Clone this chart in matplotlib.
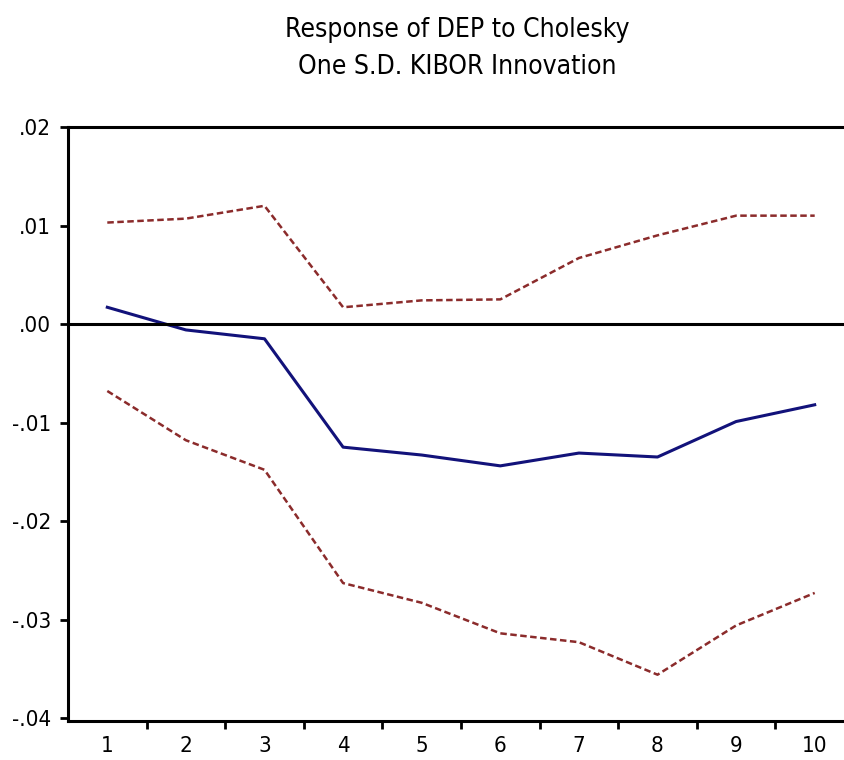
import numpy as np
import matplotlib
matplotlib.use('Agg')
import matplotlib.pyplot as plt
from matplotlib.ticker import FixedLocator, NullFormatter

# narrow look like the EViews chart
plt.rcParams['font.family'] = ['DejaVu Sans']
plt.rcParams['font.stretch'] = 'condensed'

# periods and impulse response values
periods = [1, 2, 3, 4, 5, 6, 7, 8, 9, 10]
response = [0.0017, -0.0006, -0.0015, -0.0125, -0.0133, -0.0144, -0.0131, -0.0135, -0.0099, -0.0082]
upper = [0.0103, 0.0107, 0.0120, 0.0017, 0.0024, 0.0025, 0.0067, 0.0090, 0.0110, 0.0110]
lower = [-0.0068, -0.0118, -0.0148, -0.0263, -0.0283, -0.0314, -0.0323, -0.0356, -0.0306, -0.0273]
ytick_vals = [0.02, 0.01, 0.00, -0.01, -0.02, -0.03, -0.04]
ytick_labels = ['.02', '.01', '.00', '-.01', '-.02', '-.03', '-.04']

fig = plt.figure(figsize=(8.45, 7.6), dpi=100)
ax = fig.add_axes([68 / 845, 1 - 721 / 760, 1 - 68 / 845, (721 - 127) / 760])

ax.plot(periods, upper, color='#8b2b2b', lw=1.8, linestyle=(0, (2.6, 1.4)))
ax.plot(periods, lower, color='#8b2b2b', lw=1.8, linestyle=(0, (2.6, 1.4)))
ax.plot(periods, response, color='#12127a', lw=2.2)
ax.axhline(0, color='black', lw=2.2)

ax.set_xlim(0.5, 0.5 + (845 - 68) / 78.6)
ax.set_ylim(-0.0403, 0.02)

# ticks at boundaries, labels at centres
ax.xaxis.set_major_locator(FixedLocator(np.arange(1.5, 10.5, 1.0)))
ax.xaxis.set_major_formatter(NullFormatter())
ax.xaxis.set_minor_locator(FixedLocator(periods))
ax.set_xticklabels([str(p) for p in periods], minor=True)
ax.tick_params(axis='x', which='major', direction='out', length=6, width=2, color='black')
ax.tick_params(axis='x', which='minor', length=0, pad=11, labelsize=16)

ax.set_yticks(ytick_vals)
ax.set_yticklabels(ytick_labels)
ax.tick_params(axis='y', direction='out', length=6, width=2, pad=6, labelsize=16)

ax.spines['right'].set_visible(False)
for s in ['left', 'top', 'bottom']:
    ax.spines[s].set_linewidth(2.2)

fig.text(0.541, 1 - 30 / 760, 'Response of DEP to Cholesky', ha='center', va='center', fontsize=19)
fig.text(0.541, 1 - 67 / 760, 'One S.D. KIBOR Innovation', ha='center', va='center', fontsize=19)

plt.savefig('out.png', dpi=100)
